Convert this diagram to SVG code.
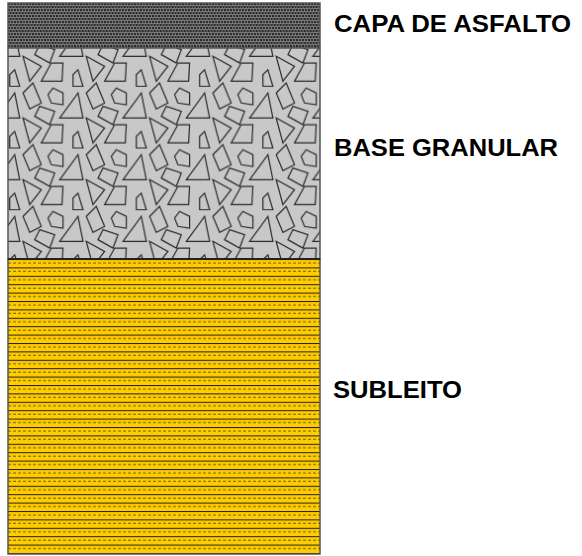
<svg xmlns="http://www.w3.org/2000/svg" width="582" height="556" viewBox="0 0 582 556">
  <style>
    .lbl { font-family: "Liberation Sans", Arial, sans-serif; font-weight: bold; font-size: 23px; fill: #000; }
    .stone { fill: #c8c8c8; stroke: #2a2a2a; stroke-width: 1.2; stroke-linejoin: miter; }
    .edge { fill: none; stroke: #555; stroke-width: 1.5; }
  </style>
  <defs>
    <pattern id="asphalt" patternUnits="userSpaceOnUse" x="8" y="3" width="6" height="6">
      <rect width="6" height="6" fill="#858585"/>
      <rect x="0" y="0" width="2.2" height="2.2" fill="#2a2a2a"/>
      <rect x="3" y="0" width="2.2" height="2.2" fill="#353535"/>
      <rect x="1.5" y="3" width="2.2" height="2.2" fill="#2a2a2a"/>
      <rect x="4.5" y="3" width="2.2" height="2.2" fill="#323232"/>
      <rect x="-1.5" y="3" width="2.2" height="2.2" fill="#323232"/>
    </pattern>
    <g id="tri-f">
      <polygon class="stone" points="70,45 75,70 51.7,70"/>
    </g>
    <g id="quad-g">
      <polygon class="stone" points="31.7,58.3 46.7,63.3 41.7,76.7 26.7,68.3"/>
    </g>
    <pattern id="granular" patternUnits="userSpaceOnUse" x="8" y="48" width="63.3" height="61.7">
      <rect width="63.3" height="61.7" fill="#c8c8c8"/>
      <polygon class="stone" points="43.3,15 55,15 54,33.3 33.3,33.3"/>
      <polygon class="stone" points="15,8.3 33.3,18.3 21.7,33.3"/>
      <polygon class="stone" points="6.7,21.7 11.7,38.3 1.7,38.3 1.7,26.7"/>
      <polygon class="stone" points="25,35 33.3,55 21.7,61 15,45"/>
      <polygon class="stone" points="45,40 55,45 55,56.7 43.3,55 40,46.7"/>
      <use href="#tri-f"/>
      <use href="#tri-f" x="-63.3"/>
      <use href="#tri-f" y="-61.7"/>
      <use href="#tri-f" x="-63.3" y="-61.7"/>
      <use href="#quad-g"/>
      <use href="#quad-g" y="-61.7"/>
    </pattern>
    <pattern id="subgrade" patternUnits="userSpaceOnUse" x="8" y="259" width="40" height="8.4">
      <rect width="40" height="8.4" fill="#ffcc00"/>
      <rect x="0" y="0" width="40" height="1" fill="#1e1e1e"/>
      <line x1="0" y1="4" x2="40" y2="4" stroke="#6b5500" stroke-width="1" stroke-dasharray="3 2"/>
    </pattern>
  </defs>

  <g id="capa-de-asfalto">
    <rect x="8" y="3" width="312" height="45" fill="url(#asphalt)"/>
    <rect class="edge" x="8" y="3" width="312" height="45"/>
    <text class="lbl" x="334" y="32" textLength="237" lengthAdjust="spacingAndGlyphs">CAPA DE ASFALTO</text>
  </g>

  <g id="base-granular">
    <rect x="8" y="48" width="312" height="211" fill="url(#granular)"/>
    <rect class="edge" x="8" y="48" width="312" height="211"/>
    <text class="lbl" x="334" y="156" textLength="224" lengthAdjust="spacingAndGlyphs">BASE GRANULAR</text>
  </g>

  <g id="subleito">
    <rect x="8" y="259" width="312" height="295" fill="url(#subgrade)"/>
    <rect class="edge" x="8" y="259" width="312" height="295"/>
    <line x1="8" y1="259" x2="320" y2="259" stroke="#111" stroke-width="1.5"/>
    <text class="lbl" x="333" y="398" textLength="129" lengthAdjust="spacingAndGlyphs">SUBLEITO</text>
  </g>

  <g id="connectors"></g>
</svg>
